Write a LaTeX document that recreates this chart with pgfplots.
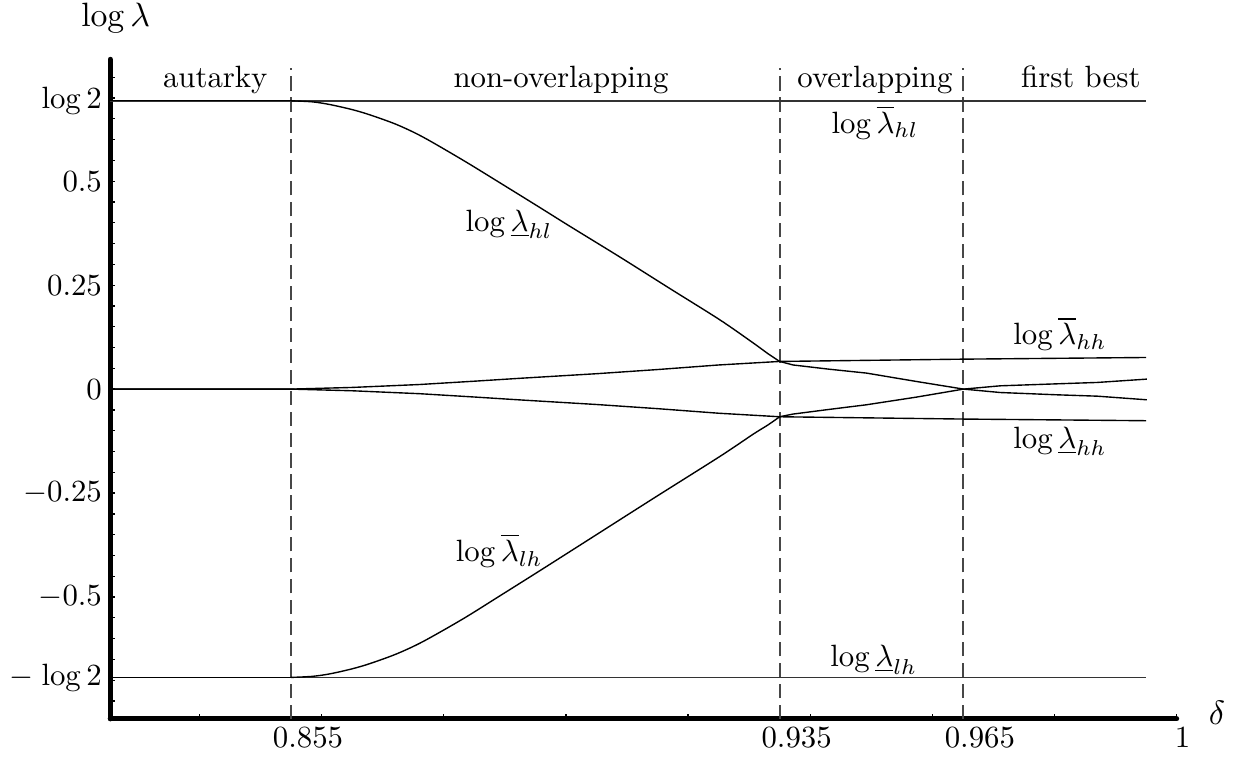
\documentclass[border=0pt]{standalone}
\usepackage{pgfplots}
\pgfplotsset{compat=1.18}
\begin{document}
\begin{tikzpicture}
\begin{axis}[
  scale only axis,
  width=346.3pt, height=214.2pt,
  xmin=0.8254, xmax=1.0, ymin=-0.793, ymax=0.793,
  axis lines=left,
  axis line style={-, line width=1.6pt, line cap=round, black},
  clip=false,
  tick align=inside,
  tick style={black, line width=0.4pt},
  major tick length=1.7pt, minor tick length=1.7pt,
  xtick={0.855,0.935,0.965,1},
  xticklabels={\makebox[0pt][r]{$0.$}\makebox[0pt][l]{$855$},
               \makebox[0pt][r]{$0.$}\makebox[0pt][l]{$935$},
               \makebox[0pt][r]{$0.$}\makebox[0pt][l]{$965$},
               $1$},
  xticklabel style={inner sep=1pt, xshift=1.9pt, yshift=-1.6pt},
  minor xtick={0.84,0.86,0.88,0.90,0.92,0.94,0.96,0.98},
  ytick={-0.693147,-0.5,-0.25,0,0.25,0.5,0.693147},
  yticklabels={$-\mkern2mu\log 2$,$-0.5$,$-0.25$,$0$,$0.25$,$0.5$,$\log 2$},
  yticklabel style={inner sep=2.5pt},
  minor ytick={-0.75,-0.7,-0.65,-0.6,-0.55,-0.45,-0.4,-0.35,-0.3,-0.2,-0.15,-0.1,-0.05,0.05,0.1,0.15,0.2,0.3,0.35,0.4,0.45,0.55,0.6,0.65,0.7,0.75},
]
% invisible bounding box matching the reference frame
\path (axis cs:0.80736,0.9355) rectangle (axis cs:1.01085,-0.9036);

% dashed regime boundaries
\addplot[black!72, line width=0.55pt, dash pattern=on 4.6pt off 2.2pt] coordinates {(0.855,-0.793) (0.855,0.7716)};
\addplot[black!72, line width=0.55pt, dash pattern=on 4.6pt off 2.2pt] coordinates {(0.935,-0.793) (0.935,0.7716)};
\addplot[black!72, line width=0.55pt, dash pattern=on 4.6pt off 2.2pt] coordinates {(0.965,-0.793) (0.965,0.7716)};

% log bar lambda_hl and log underline lambda_lh (flat)
\addplot[black!80, line width=0.5pt] coordinates {(0.8254,0.693147) (0.995,0.693147)};
\addplot[black!80, line width=0.5pt] coordinates {(0.8254,-0.693147) (0.995,-0.693147)};

% log underline lambda_hl
\addplot[black, line width=0.45pt] coordinates {(0.8254,0.693147) (0.855,0.693147)};
\addplot[black, line width=0.45pt, smooth, tension=0.5] coordinates {
(0.855,0.693147) (0.8585,0.6906) (0.8614,0.6840) (0.8650,0.6720) (0.8679,0.6594)
(0.8723,0.6360) (0.8766,0.6060) (0.8832,0.5500) (0.8892,0.4960) (0.8958,0.4360)
(0.9007,0.3910) (0.9089,0.3170) (0.9170,0.2420) (0.9252,0.1666) (0.9307,0.1106)
(0.9331,0.0850) (0.935,0.0665)};
\addplot[black, line width=0.45pt] coordinates {
(0.935,0.0665) (0.9372,0.058) (0.9430,0.048) (0.9492,0.0385) (0.9574,0.0183)
(0.9651,0) (0.9711,-0.0082) (0.9804,-0.0137) (0.9870,-0.017) (0.9951,-0.0257)};

% log bar lambda_lh
\addplot[black, line width=0.45pt] coordinates {(0.8254,-0.693147) (0.855,-0.693147)};
\addplot[black, line width=0.45pt, smooth, tension=0.5] coordinates {
(0.855,-0.693147) (0.8585,-0.6906) (0.8614,-0.6845) (0.8650,-0.6725) (0.8679,-0.6600)
(0.8723,-0.6365) (0.8766,-0.6070) (0.8832,-0.5520) (0.8892,-0.4970) (0.8958,-0.4360)
(0.9034,-0.3650) (0.9143,-0.2630) (0.9252,-0.1620) (0.9307,-0.1080) (0.9331,-0.0860)
(0.935,-0.0665)};
\addplot[black, line width=0.45pt] coordinates {
(0.935,-0.0665) (0.9372,-0.060) (0.9430,-0.049) (0.9492,-0.0377) (0.9574,-0.0192)
(0.9651,0) (0.9711,0.0079) (0.9804,0.0127) (0.9870,0.016) (0.9951,0.024)};

% log bar lambda_hh
\addplot[black, line width=0.45pt] coordinates {
(0.8254,0) (0.855,0) (0.865,0.004) (0.876,0.011) (0.885,0.019) (0.8925,0.026)
(0.905,0.037) (0.915,0.047) (0.925,0.058) (0.935,0.0665) (0.965,0.072) (0.995,0.076)};

% log underline lambda_hh
\addplot[black, line width=0.45pt] coordinates {
(0.8254,0) (0.855,0) (0.865,-0.004) (0.876,-0.011) (0.885,-0.019) (0.8925,-0.026)
(0.905,-0.037) (0.915,-0.047) (0.925,-0.058) (0.935,-0.0665) (0.965,-0.072) (0.995,-0.076)};

% regime labels
\node[anchor=base, inner sep=0pt] at (axis cs:0.8426,0.7243) {autarky};
\node[anchor=base, inner sep=0pt] at (axis cs:0.8992,0.7243) {non-overlapping};
\node[anchor=base, inner sep=0pt] at (axis cs:0.9506,0.7243) {overlapping};
\node[anchor=base, inner sep=0pt] at (axis cs:0.9843,0.7243) {first best};

% curve labels
\node[anchor=base, inner sep=0pt] at (axis cs:0.9506,0.6154) {$\log\overline{\lambda}_{hl}$};
\node[anchor=base, inner sep=0pt] at (axis cs:0.8907,0.3800) {$\log\underline{\lambda}_{hl}$};
\node[anchor=base, inner sep=0pt] at (axis cs:0.9809,0.1065) {$\log\overline{\lambda}_{hh}$};
\node[anchor=base, inner sep=0pt] at (axis cs:0.9809,-0.1418) {$\log\underline{\lambda}_{hh}$};
\node[anchor=base, inner sep=0pt] at (axis cs:0.8891,-0.4144) {$\log\overline{\lambda}_{lh}$};
\node[anchor=base, inner sep=0pt] at (axis cs:0.9504,-0.6668) {$\log\underline{\lambda}_{lh}$};

% axis labels
\node[anchor=base, inner sep=0pt, font=\fontsize{11}{13}\selectfont] at (axis cs:0.8263,0.8716) {$\log\lambda$};
\node[anchor=base, inner sep=0pt, font=\fontsize{11}{13}\selectfont] at (axis cs:1.0066,-0.807) {$\delta$};
\end{axis}
\end{tikzpicture}
\end{document}
